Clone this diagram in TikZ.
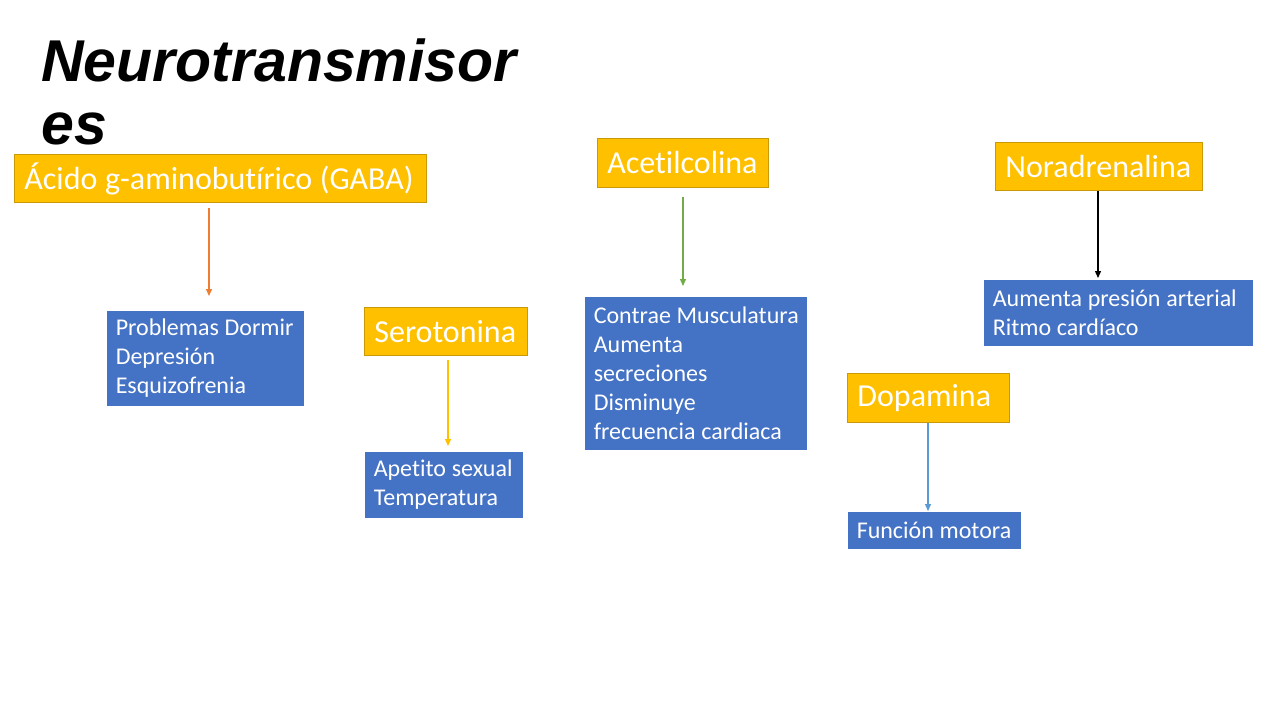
\documentclass[tikz,border=0pt]{standalone}
\usepackage{fontspec}
\setmainfont{Carlito}[Ligatures=NoCommon]
\newfontfamily\titlefont{Liberation Sans}
\usetikzlibrary{arrows.meta}
\definecolor{yel}{HTML}{FFC000}
\definecolor{yeldark}{HTML}{C99A06}
\definecolor{blu}{HTML}{4472C4}
\definecolor{aorange}{HTML}{ED7D31}
\definecolor{agreen}{HTML}{70AD47}
\definecolor{ablue}{HTML}{5B9BD5}
\newcommand\mytightspace{\spaceskip=0.24em\relax}
\tikzset{
  ybox/.style={fill=yel, draw=yeldark, line width=0.8pt, text=white, anchor=north west,
    inner xsep=10pt, inner ysep=0pt, align=left, font=\fontsize{32}{38}\selectfont,
    execute at begin node=\mytightspace},
  bbox/.style={fill=blu, draw=blu, line width=0.5pt, text=white, anchor=north west,
    inner xsep=8.5pt, inner ysep=0pt, align=left, font=\fontsize{24}{29}\selectfont,
    execute at begin node=\mytightspace},
  conn/.style={line width=1.3pt, -{Triangle[length=7pt,width=6pt]}}
}
\begin{document}
\begin{tikzpicture}[x=1pt,y=-1pt]
\useasboundingbox (0,0) rectangle (1280,720);
\fill[white] (0,0) rectangle (1280,720);
\node[anchor=north west, inner sep=0pt, align=left, font=\titlefont\bfseries\itshape\fontsize{59}{63}\selectfont] (title) at (41,39) {Neurotransmisor\\es};
% header boxes
\node[ybox, minimum width=412pt, minimum height=48pt, text width=392pt] (gaba) at (14,154) {\mbox{Ácido g-aminobutírico (GABA)}};
\node[ybox, minimum width=163pt, minimum height=48pt, text width=143pt] (sero) at (364,307) {\mbox{Serotonina}};
\node[ybox, minimum width=171pt, minimum height=49pt, text width=151pt] (acet) at (597,138) {\mbox{Acetilcolina}};
\node[ybox, minimum width=207pt, minimum height=48pt, text width=187pt] (nora) at (995,142) {\mbox{Noradrenalina}};
\node[ybox, minimum width=162pt, minimum height=49pt, text width=142pt] (dopa) at (847,373) {\mbox{Dopamina}};
% blue boxes
\node[bbox, minimum width=196pt, minimum height=94pt, text width=179pt] (prob) at (107,311) {\mbox{Problemas Dormir}\\\mbox{Depresión}\\\mbox{Esquizofrenia}};
\node[bbox, minimum width=157pt, minimum height=65pt, text width=140pt] (apet) at (365,452) {\mbox{Apetito sexual}\\\mbox{Temperatura}};
\node[bbox, minimum width=221pt, minimum height=152pt, text width=204pt] (contr) at (585,297) {\mbox{Contrae Musculatura}\\\mbox{Aumenta}\\\mbox{secreciones}\\\mbox{Disminuye}\\\mbox{frecuencia cardiaca}};
\node[bbox, minimum width=268pt, minimum height=65pt, text width=251pt] (aum) at (984,280) {\mbox{Aumenta presión arterial}\\\mbox{Ritmo cardíaco}};
\node[bbox, minimum width=172pt, minimum height=36pt, text width=155pt] (func) at (848,512) {\mbox{Función motora}};
% arrow ends
\coordinate (e1) at (209,296);
\coordinate (e2) at (448,446);
\coordinate (e3) at (683,286);
\coordinate (e4) at (1098,278);
\coordinate (e5) at (928,511);
\draw[conn, aorange] ([yshift=-5pt]gaba.south -| e1) -- (e1);
\draw[conn, yel] ([yshift=-4pt]sero.south -| e2) -- (e2);
\draw[conn, agreen] ([yshift=-9pt]acet.south -| e3) -- (e3);
\draw[conn, black] (nora.south -| e4) -- (e4);
\draw[conn, ablue] (dopa.south -| e5) -- (e5);
\end{tikzpicture}
\end{document}
